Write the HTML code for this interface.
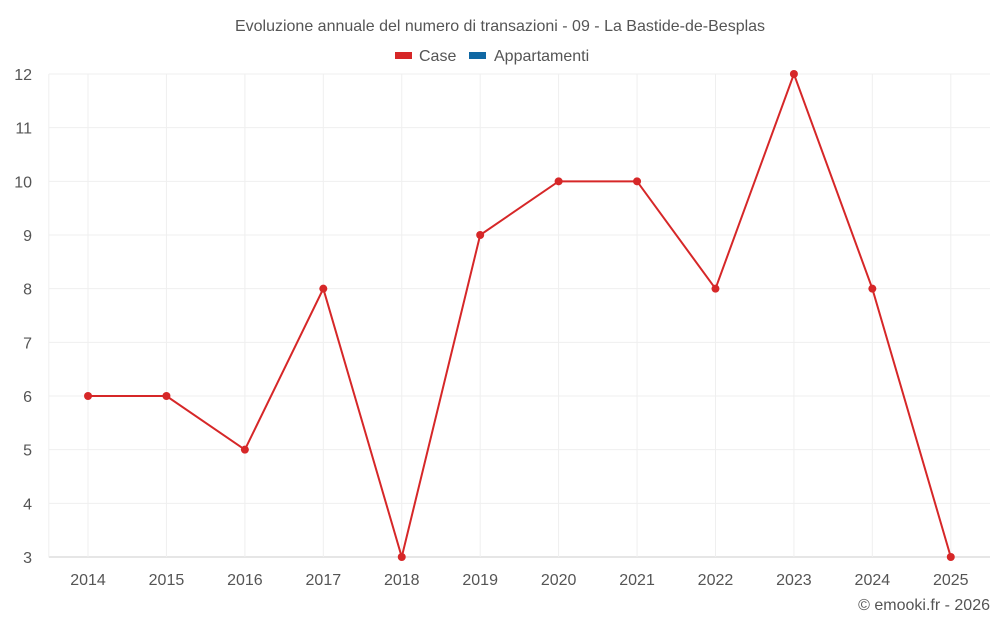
<!DOCTYPE html>
<html><head><meta charset="utf-8"><style>
body{margin:0;background:#fff;font-family:"Liberation Sans",sans-serif}
</style></head><body>
<svg width="1000" height="625" xmlns="http://www.w3.org/2000/svg" font-family="Liberation Sans, sans-serif">
<text x="500" y="31" text-anchor="middle" font-size="16" fill="#555">Evoluzione annuale del numero di transazioni - 09 - La Bastide-de-Besplas</text>
<g>
<rect x="395" y="52" width="17" height="7" fill="#d62728"/>
<text x="419" y="61" font-size="16" fill="#555">Case</text>
<rect x="469" y="52" width="17" height="7" fill="#1068a3"/>
<text x="494" y="61" font-size="16" fill="#555">Appartamenti</text>
</g>
<g id="grid"></g>
<g id="axes"></g>
<g id="series"></g>
<text x="990" y="610" text-anchor="end" font-size="16" fill="#555">© emooki.fr - 2026</text>
</svg>
<script>
const years=["2014","2015","2016","2017","2018","2019","2020","2021","2022","2023","2024","2025"];
const caseValues=[6,6,5,8,3,9,10,10,8,12,8,3];
const yTicks=[3,4,5,6,7,8,9,10,11,12];
const NS="http://www.w3.org/2000/svg";
const L=48.8,R=990,T=74,B=557,yMin=3,yMax=12;
const band=(R-L)/years.length;
function xs(i){return L+band*(i+0.5);}
function ys(v){return B-(v-yMin)/(yMax-yMin)*(B-T);}
function mk(tag,attrs,parent){const e=document.createElementNS(NS,tag);for(const k in attrs)e.setAttribute(k,attrs[k]);parent.appendChild(e);return e;}
const grid=document.getElementById('grid'),axes=document.getElementById('axes'),series=document.getElementById('series');
yTicks.forEach(t=>{
 const y=ys(t);
 const l=mk('line',{x1:L,x2:R,y1:y,y2:y,stroke:t===yMin?'#ccc':'#efefef','stroke-width':1},grid);
 
 
 const tx=mk('text',{x:32,y:y+6,'text-anchor':'end','font-size':16,fill:'#555'},axes);
 tx.textContent=t;
 
 
});
const lv=mk('line',{x1:L,x2:L,y1:T,y2:B,stroke:'#efefef','stroke-width':1},grid);


years.forEach((yr,i)=>{
 const l=mk('line',{x1:xs(i),x2:xs(i),y1:T,y2:B,stroke:'#efefef','stroke-width':1},grid);
 
 
 const tx=mk('text',{x:xs(i),y:585,'text-anchor':'middle','font-size':16,fill:'#555'},axes);
 tx.textContent=yr;
 
 
});
const pts=caseValues.map((v,i)=>xs(i)+','+ys(v)).join(' ');
const pl=mk('polyline',{points:pts,fill:'none',stroke:'#d62728','stroke-width':2},series);


caseValues.forEach((v,i)=>{
 const c=mk('circle',{cx:xs(i),cy:ys(v),r:4,fill:'#d62728'},series);
 
 
});
</script>
</body></html>
